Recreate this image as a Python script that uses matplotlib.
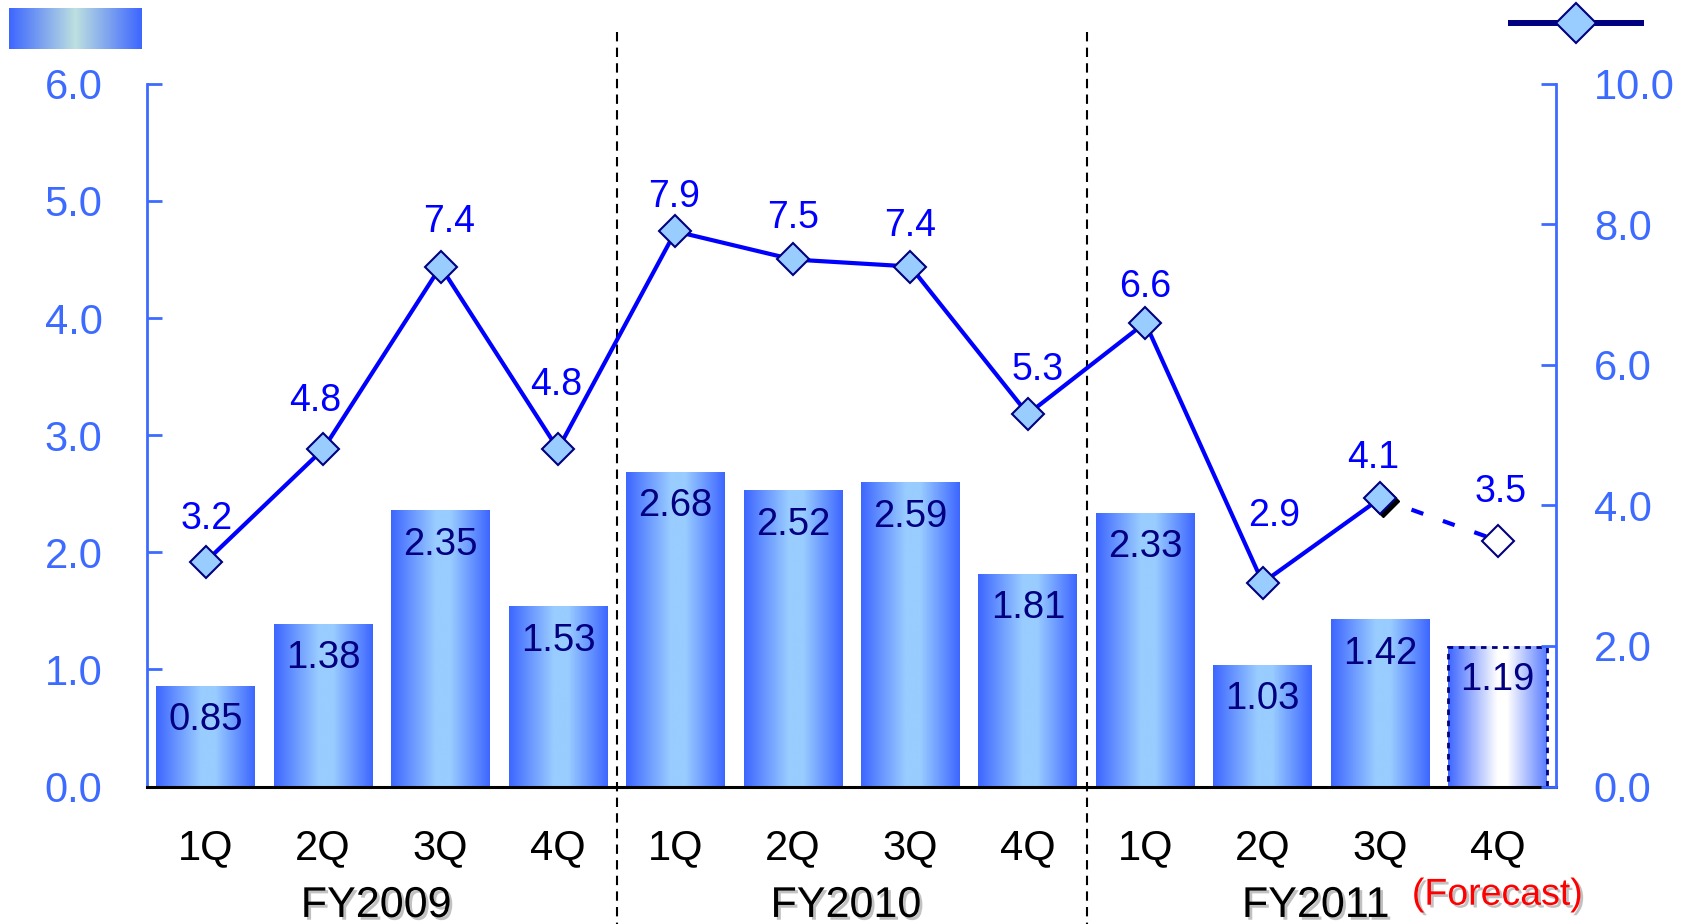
import matplotlib
matplotlib.use("Agg")
import matplotlib.pyplot as plt
import numpy as np
from matplotlib.colors import LinearSegmentedColormap
from matplotlib.ticker import FormatStrFormatter
from matplotlib import patheffects as pe
from matplotlib.transforms import offset_copy

quarters = ["1Q", "2Q", "3Q", "4Q"] * 3
years = ["FY2009", "FY2010", "FY2011"]
bar_vals = [0.85, 1.38, 2.35, 1.53, 2.68, 2.52, 2.59, 1.81, 2.33, 1.03, 1.42, 1.19]
line_vals = [3.2, 4.8, 7.4, 4.8, 7.9, 7.5, 7.4, 5.3, 6.6, 2.9, 4.1, 3.5]
n_actual = 11  # the last quarter is a forecast

# label nudges for the line values (points)
line_nudge = [(1, 31), (-6, 35), (6, 32), (-1, 46), (-1, 25), (0, 30),
              (0, 29), (7, 32), (0, 26), (8, 48), (-5, 29), (2, 35)]

plt.rcParams['font.family'] = ['Liberation Sans', 'DejaVu Sans']

EDGE = '#3d66ff'
LIGHT = '#99ccff'
AXIS_BLUE = '#3d6bff'
NAVY = '#000080'
LINE = '#0000ff'

W, H = 1684, 924
fig = plt.figure(figsize=(W / 100, H / 100), dpi=100)
ax = fig.add_axes([147 / W, 1 - 786.5 / H, (1556.3 - 147) / W, (786.5 - 83.8) / H])
ax2 = ax.twinx()

x = np.arange(len(bar_vals))
grad = np.linspace(0, 1, 256).reshape(1, -1)
bar_cmap = LinearSegmentedColormap.from_list(
    'bar', [(0, EDGE), (0.45, LIGHT), (0.6, LIGHT), (1, EDGE)])
fc_cmap = LinearSegmentedColormap.from_list(
    'fc', [(0, EDGE), (0.5, 'white'), (0.6, 'white'), (1, '#5a7dff')])

bars = ax.bar(x, bar_vals, width=0.84, color='none', zorder=2)
for i, b in enumerate(bars):
    cmap = bar_cmap if i < n_actual else fc_cmap
    ax.imshow(grad, cmap=cmap, aspect='auto', zorder=1,
              extent=(b.get_x(), b.get_x() + b.get_width(), 0, b.get_height()))
bars[-1].set_edgecolor(NAVY)
bars[-1].set_linestyle((0, (2, 2)))
bars[-1].set_linewidth(2)

for xi, v in zip(x, bar_vals):
    ax.annotate(f'{v:.2f}', (xi, v), xytext=(0, -24), textcoords='offset points',
                ha='center', va='center', color=NAVY, fontsize=27.5, zorder=4)

# group separators
for sx in [3.5, 7.5]:
    ax.plot([sx, sx], [1.074, -0.196], transform=ax.get_xaxis_transform(),
            clip_on=False, color='black', lw=1.5, ls=(0, (4.5, 3)), zorder=3)

ax.set_xlim(-0.5, 11.5)
ax.set_ylim(0, 6)
ax.set_yticks(np.arange(0, 6.01, 1.0))
ax.yaxis.set_major_formatter(FormatStrFormatter('%.1f'))
ax.tick_params(axis='y', direction='in', length=11, width=2, colors=AXIS_BLUE,
               labelsize=30, pad=32)
ax.set_xticks(x, quarters)
ax.tick_params(axis='x', length=0, pad=30, labelsize=30, labelcolor='black')
ax.spines['top'].set_visible(False)
ax.spines['right'].set_visible(False)
ax.spines['left'].set_color(AXIS_BLUE)
ax.spines['left'].set_linewidth(2)
ax.spines['bottom'].set_color('black')
ax.spines['bottom'].set_linewidth(2.2)

# margin line, solid for actuals and dashed into the forecast
ax2.plot(x[n_actual - 1:], line_vals[n_actual - 1:], color=LINE, lw=3,
         ls=(0, (3, 5)), zorder=2)
ax2.plot(x[n_actual - 1], line_vals[n_actual - 1], 'D', ms=16.5, color='black',
         zorder=2.5, transform=offset_copy(ax2.transData, fig, x=3, y=-3, units='dots'))
ax2.plot(x[:n_actual], line_vals[:n_actual], color=LINE, lw=3, marker='D', ms=16.5,
         mfc=LIGHT, mec=NAVY, mew=1.5, zorder=3)
ax2.plot(x[n_actual:], line_vals[n_actual:], 'D', ms=16.5, mfc='white', mec=NAVY,
         mew=1.5, zorder=3)
for xi, v, d in zip(x, line_vals, line_nudge):
    ax2.annotate(f'{v:.1f}', (xi, v), xytext=d, textcoords='offset points',
                 ha='center', va='center', color=LINE, fontsize=27)

ax2.set_ylim(0, 10)
ax2.set_yticks(np.arange(0, 10.01, 2.0))
ax2.yaxis.set_major_formatter(FormatStrFormatter('%.1f'))
ax2.tick_params(axis='y', direction='in', length=11, width=2, colors=AXIS_BLUE,
                labelsize=30, pad=27)
for s in ['top', 'left', 'bottom']:
    ax2.spines[s].set_visible(False)
ax2.spines['right'].set_color(AXIS_BLUE)
ax2.spines['right'].set_linewidth(2)

shadow = [pe.withSimplePatchShadow(offset=(2, -2), shadow_rgbFace='#999999', alpha=0.6)]
for xc, yr in zip([1.45, 5.45, 9.45], years):
    ax.text(xc, -0.17, yr, transform=ax.get_xaxis_transform(), ha='center',
            va='center', fontsize=31, color='black', path_effects=shadow)
ax.text(11, -0.154, '(Forecast)', transform=ax.get_xaxis_transform(), ha='center',
        va='center', fontsize=27, color='red', path_effects=shadow)

# legend swatches
lax = fig.add_axes([9 / W, 1 - 49 / H, 133 / W, 41 / H])
lax.imshow(grad, aspect='auto', cmap=LinearSegmentedColormap.from_list(
    'leg', [(0, EDGE), (0.5, '#bde0e0'), (1, EDGE)]))
lax.axis('off')

rax = fig.add_axes([1508 / W, 1 - 43 / H, 136 / W, 40 / H])
rax.plot([0, 1], [0.5, 0.5], color=NAVY, lw=4.3)
rax.plot([0.5], [0.5], 'D', ms=20, mfc=LIGHT, mec=NAVY, mew=1.5, clip_on=False)
rax.set_xlim(0, 1)
rax.set_ylim(0, 1)
rax.axis('off')

fig.savefig('out.png', dpi=100)
